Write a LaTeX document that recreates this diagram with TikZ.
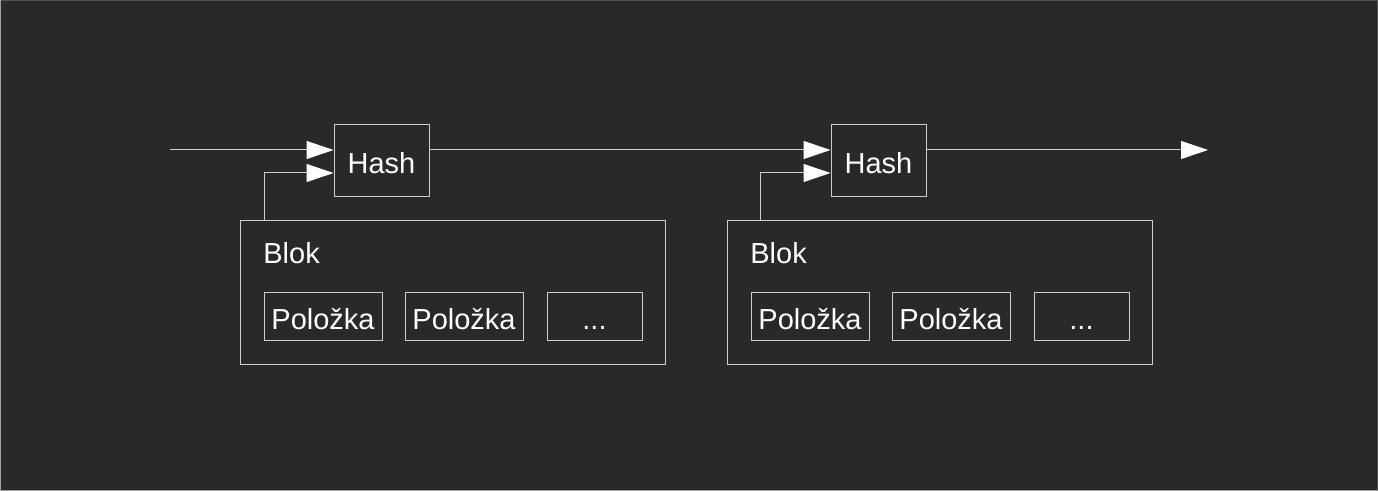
\documentclass[tikz,border=0pt]{standalone}
\usepackage{fontspec}
\setmainfont{Liberation Sans}
\usetikzlibrary{arrows.meta,calc}
\definecolor{bg}{RGB}{42,41,39}
\definecolor{ln}{RGB}{205,205,205}
\definecolor{framelight}{RGB}{160,160,160}
\definecolor{framedark}{RGB}{85,85,85}
\begin{document}
\begin{tikzpicture}[x=0.5pt,y=-0.5pt,
  txt/.style={text=white,font=\fontsize{14.5}{17}\selectfont},
  box/.style={txt,draw=ln,line width=0.5pt,inner sep=0pt,text depth=0pt},
  hashbox/.style={box,minimum width=47.5pt,minimum height=36pt,text height=13pt},
  blokbox/.style={box,minimum width=212.5pt,minimum height=72pt},
  itembox/.style={box,minimum width=59pt,minimum height=24pt,text height=12.5pt},
  dotbox/.style={box,minimum width=47.5pt,minimum height=24pt,text height=12.5pt},
  arr/.style={draw=ln,line width=0.5pt,-{Triangle[length=13.5pt,width=9pt,color=white]}}]
\useasboundingbox (0,0) rectangle (1378,491);
\fill[bg] (0,0) rectangle (1378,491);
\draw[framedark,line width=0.5pt] (0.5,0.5) -- (1377.5,0.5) -- (1377.5,490.5);
\draw[framelight,line width=0.5pt] (0.5,0.5) -- (0.5,490.5) -- (1377.5,490.5);
% first block
\node[hashbox] (h1) at (381.5,161) {Hash};
\node[blokbox] (b1) at (452.5,293) {};
\node[txt,anchor=base west,inner sep=0pt] (bl1) at (263,264) {Blok};
\node[itembox] (p11) at (323,317) {Položka};
\node[itembox] (p12) at (464,317) {Položka};
\node[dotbox] (d1) at (594.5,317) {...};
% second block
\node[hashbox] (h2) at (878.5,161) {Hash};
\node[blokbox] (b2) at (939.5,293) {};
\node[txt,anchor=base west,inner sep=0pt] (bl2) at (750,264) {Blok};
\node[itembox] (p21) at (810,317) {Položka};
\node[itembox] (p22) at (951,317) {Položka};
\node[dotbox] (d2) at (1081.5,317) {...};
% connectors
\coordinate (in) at (170,150);
\coordinate (out) at (1208,150);
\coordinate (v1) at (264,221);
\coordinate (v2) at (760,221);
\draw[arr] (in) -- (in -| h1.west);
\draw[arr] (v1) |- ($(h1.west)+(0,12)$);
\draw[arr] (h1.east |- in) -- (h2.west |- in);
\draw[arr] (v2) |- ($(h2.west)+(0,12)$);
\draw[arr] (h2.east |- in) -- (out);
\end{tikzpicture}
\end{document}
